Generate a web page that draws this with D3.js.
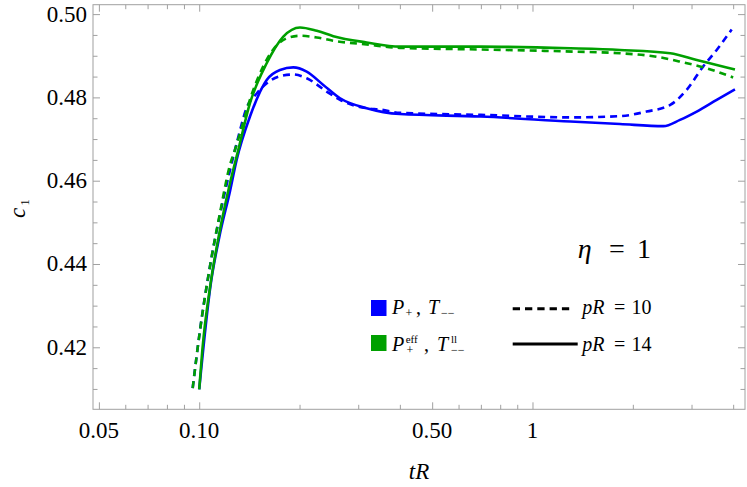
<!DOCTYPE html>
<html>
<head>
<meta charset="utf-8">
<script src="https://cdn.jsdelivr.net/npm/d3@7"></script>
</head>
<body style="margin:0">
<div id="chart"></div>
<script>
// P+ , T-- (blue) and P+eff , T--ll (green), pR = 14 solid, pR = 10 dashed
var tBlue14 = [0.1, 0.1082, 0.1149, 0.1237, 0.1295, 0.142, 0.1594, 0.1747, 0.1915, 0.2101, 0.2357, 0.2646, 0.318, 0.4, 0.7, 1.3, 1.83, 2.47, 2.77, 3.11, 3.57, 4.05];
var cBlue14 = [0.4099, 0.4350, 0.4465, 0.4575, 0.4650, 0.4754, 0.4842, 0.4866, 0.4872, 0.4862, 0.4830, 0.4798, 0.4774, 0.4760, 0.4754, 0.4742, 0.4736, 0.4731, 0.4746, 0.4766, 0.4794, 0.4819];

var tBlue10 = [0.0956, 0.1006, 0.1077, 0.1154, 0.1237, 0.131, 0.1388, 0.149, 0.1747, 0.1915, 0.2101, 0.2413, 0.2646, 0.318, 0.3487, 0.4, 0.7, 1.32, 1.83, 2.2, 2.59, 2.9, 3.25, 3.57, 3.96];
var cBlue10 = [0.4102, 0.4242, 0.4394, 0.4518, 0.4625, 0.4705, 0.4775, 0.4810, 0.4851, 0.4855, 0.4846, 0.4814, 0.4794, 0.4774, 0.4771, 0.4763, 0.4758, 0.4752, 0.4755, 0.4766, 0.4782, 0.4818, 0.4874, 0.4914, 0.4963];

var tGreen14 = [0.1, 0.1022, 0.1082, 0.1149, 0.1237, 0.131, 0.142, 0.1594, 0.1788, 0.2006, 0.2252, 0.2526, 0.318, 0.4, 0.7, 1.3, 1.83, 2.59, 3.11, 3.57, 4.05];
var cGreen14 = [0.4099, 0.4194, 0.4354, 0.4474, 0.4594, 0.4674, 0.4786, 0.4882, 0.4946, 0.4968, 0.4960, 0.4947, 0.4932, 0.4922, 0.4922, 0.4918, 0.4914, 0.4906, 0.4890, 0.4878, 0.4867];

var tGreen10 = [0.0956, 0.1006, 0.1077, 0.1154, 0.1237, 0.128, 0.1453, 0.165, 0.183, 0.2006, 0.2252, 0.2526, 0.318, 0.4, 0.7, 1.32, 1.83, 2.3, 2.77, 3.33, 4.0];
var cGreen10 = [0.4102, 0.4242, 0.4394, 0.4522, 0.4638, 0.4674, 0.4818, 0.4910, 0.4942, 0.4948, 0.4944, 0.4936, 0.4927, 0.4919, 0.4915, 0.4910, 0.4906, 0.4899, 0.4886, 0.4870, 0.4848];

var xMajor = [0.05, 0.1, 0.5, 1];
var xMajorLabels = ['0.05', '0.10', '0.50', '1'];
var xMinor = [0.06, 0.07, 0.08, 0.09, 0.2, 0.3, 0.4, 0.6, 0.7, 0.8, 0.9, 2, 3, 4];
var yMajor = [0.42, 0.44, 0.46, 0.48, 0.50];
var yMinor = [0.41, 0.415, 0.425, 0.43, 0.435, 0.445, 0.45, 0.455, 0.465, 0.47, 0.475, 0.485, 0.49, 0.495];

var blue = '#0000ff';
var green = '#00a000';
var frameColor = '#a0a0a0';
var fontName = 'Liberation Serif';

function render() {
  var svg = d3.select('#chart').append('svg').attr('width', 747).attr('height', 487);

  // plot frame (note: no global "top", it clashes with window.top)
  var fx0 = 93, fx1 = 745, fy0 = 4.7, fy1 = 409.3;
  var x = d3.scaleLog().domain([0.04801, 4.341]).range([fx0, fx1]);
  var y = d3.scaleLinear().domain([0.40511, 0.50226]).range([fy1, fy0]);

  // plain text helper, font set the same way for every label
  function label(parent, px, py, size) {
    return parent.append('text')
      .attr('x', px).attr('y', py)
      .attr('font-size', size)
      .style('font-family', "'" + fontName + "'");
  }

  function styleAxis(g) {
    g.select('.domain').remove();
    g.selectAll('.tick line').attr('stroke', frameColor);
    g.selectAll('text').remove();
  }

  // ticks inward on all four sides
  [[d3.axisBottom, fy1, xMajor, 7], [d3.axisBottom, fy1, xMinor, 4.5],
   [d3.axisTop, fy0, xMajor, 7], [d3.axisTop, fy0, xMinor, 4.5]].forEach(function(a) {
    svg.append('g').attr('transform', 'translate(0,' + a[1] + ')')
      .call(a[0](x).tickValues(a[2]).tickSize(-a[3])).call(styleAxis);
  });
  [[d3.axisLeft, fx0, yMajor, 7], [d3.axisLeft, fx0, yMinor, 4.5],
   [d3.axisRight, fx1, yMajor, 7], [d3.axisRight, fx1, yMinor, 4.5]].forEach(function(a) {
    svg.append('g').attr('transform', 'translate(' + a[1] + ',0)')
      .call(a[0](y).tickValues(a[2]).tickSize(-a[3])).call(styleAxis);
  });

  svg.append('rect')
    .attr('x', fx0).attr('y', fy0)
    .attr('width', fx1 - fx0).attr('height', fy1 - fy0)
    .attr('fill', 'none').attr('stroke', frameColor).attr('stroke-width', 1);

  // tick labels
  xMajor.forEach(function(d, i) {
    label(svg, x(d), 438, 23).attr('text-anchor', 'middle').text(xMajorLabels[i]);
  });
  yMajor.forEach(function(d) {
    label(svg, 87, y(d) + 7.5, 23).attr('text-anchor', 'end').text(d3.format('.2f')(d));
  });

  var series = [
    {t: tBlue14, c: cBlue14, color: blue, dash: null},
    {t: tBlue10, c: cBlue10, color: blue, dash: '7,5'},
    {t: tGreen14, c: cGreen14, color: green, dash: null},
    {t: tGreen10, c: cGreen10, color: green, dash: '7,5'}
  ];

  var line = d3.line()
    .x(function(d) { return x(d[0]); })
    .y(function(d) { return y(d[1]); })
    .curve(d3.curveMonotoneX);

  svg.append('g').selectAll('path')
    .data(series)
    .enter()
    .append('path')
    .attr('d', function(s) { return line(d3.zip(s.t, s.c)); })
    .attr('fill', 'none')
    .attr('stroke', function(s) { return s.color; })
    .attr('stroke-width', 2.6)
    .attr('stroke-dasharray', function(s) { return s.dash; });

  // axis labels
  label(svg, (fx0 + fx1) / 2, 479, 23).attr('text-anchor', 'middle').attr('font-style', 'italic').text('tR');
  label(svg, 0, 0, 23).attr('transform', 'translate(25,213) rotate(-90)')
    .attr('text-anchor', 'middle').attr('font-style', 'italic').text('c');
  label(svg, 0, 0, 13).attr('transform', 'translate(28.5,202.5) rotate(-90)')
    .attr('text-anchor', 'middle').text('1');

  // eta = 1
  label(svg, 577.7, 258.3, 28).attr('font-style', 'italic').text('η');
  label(svg, 609, 258.3, 28).text('=');
  label(svg, 637, 258.3, 28).text('1');

  // legend: colours
  svg.append('rect').attr('x', 371).attr('y', 300).attr('width', 15.5).attr('height', 16).attr('fill', blue);
  svg.append('rect').attr('x', 371).attr('y', 335).attr('width', 15.5).attr('height', 16).attr('fill', green);

  label(svg, 392, 314.3, 20).attr('font-style', 'italic').text('P');
  label(svg, 405.5, 316.5, 12).text('+');
  label(svg, 416, 314.3, 20).text(',');
  label(svg, 428, 314.3, 20).attr('font-style', 'italic').text('T');
  label(svg, 441, 316.5, 12).text('−−');

  label(svg, 392, 350.7, 20).attr('font-style', 'italic').text('P');
  label(svg, 405.7, 342.6, 11).text('eff');
  label(svg, 406.5, 354.2, 12).text('+');
  label(svg, 424, 350.7, 20).text(',');
  label(svg, 437, 350.7, 20).attr('font-style', 'italic').text('T');
  label(svg, 451, 342.6, 11).text('ll');
  label(svg, 451, 354.2, 12).text('−−');

  // legend: line styles
  svg.append('line').attr('x1', 512.7).attr('x2', 571.7).attr('y1', 308.7).attr('y2', 308.7)
    .attr('stroke', '#000').attr('stroke-width', 3).attr('stroke-dasharray', '7.3,5');
  svg.append('line').attr('x1', 512.7).attr('x2', 577.7).attr('y1', 344).attr('y2', 344)
    .attr('stroke', '#000').attr('stroke-width', 3);

  label(svg, 582.3, 314.3, 20).attr('font-style', 'italic').text('pR');
  label(svg, 614, 314.3, 20).text('=');
  label(svg, 631.5, 314.3, 20).text('10');
  label(svg, 582.3, 350.7, 20).attr('font-style', 'italic').text('pR');
  label(svg, 614, 350.7, 20).text('=');
  label(svg, 631.5, 350.7, 20).text('14');
}

render();
</script>
</body>
</html>
